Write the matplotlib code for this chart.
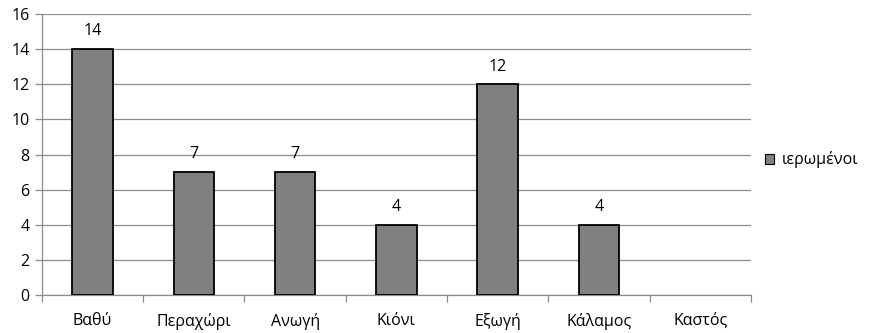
import matplotlib
matplotlib.use("Agg")
import matplotlib.pyplot as plt
import numpy as np

villages = ["Βαθύ", "Περαχώρι", "Ανωγή", "Κιόνι", "Εξωγή", "Κάλαμος", "Καστός"]
values = [14, 7, 7, 4, 12, 4, 0]
series_name = "ιερωμένοι"

plt.rcParams['font.family'] = ['Open Sans', 'DejaVu Sans']
fs = 12

fig = plt.figure(figsize=(8.69, 3.33), dpi=100)
ax = fig.add_axes([0.0483, 0.114, 0.8157, 0.844])

x = np.arange(len(villages))
bars = ax.bar(x, values, width=0.4, color="#808080", edgecolor="black",
              linewidth=1.3, label=series_name, zorder=3)
for b, v in zip(bars, values):
    if v == 0:
        b.set_visible(False)

for xi, v in zip(x, values):
    if v > 0:
        ax.annotate(str(v), (xi, v), xytext=(0, 7), textcoords="offset points",
                    ha="center", va="bottom", fontsize=fs - 0.5)

ax.set_xlim(-0.5, len(villages) - 0.5)
ax.set_ylim(0, 16)
ax.set_yticks(range(0, 17, 2))
ax.yaxis.grid(True, color="#8c8c8c", linewidth=0.9, zorder=0)
ax.set_axisbelow(True)

# category labels in the middle, tick marks between categories
ax.set_xticks(x)
ax.set_xticklabels(villages, fontsize=fs - 0.5)
ax.tick_params(axis="x", length=0, pad=13)
ax.set_xticks(np.arange(-0.5, len(villages)), minor=True)
ax.tick_params(axis="x", which="minor", length=5, color="#8c8c8c", width=0.9)
ax.tick_params(axis="y", length=5, color="#8c8c8c", width=0.9, labelsize=fs - 0.5, pad=4)

for s in ["top", "right"]:
    ax.spines[s].set_visible(False)
for s in ["left", "bottom"]:
    ax.spines[s].set_color("#8c8c8c")
    ax.spines[s].set_linewidth(0.9)

leg = fig.legend(loc="center left", bbox_to_anchor=(0.864, 0.52), frameon=False,
                 fontsize=fs - 0.5, handlelength=0.55, handleheight=0.55, handletextpad=0.5)
for h in leg.legend_handles:
    h.set_linewidth(0.8)

fig.savefig("out.png", dpi=100)
